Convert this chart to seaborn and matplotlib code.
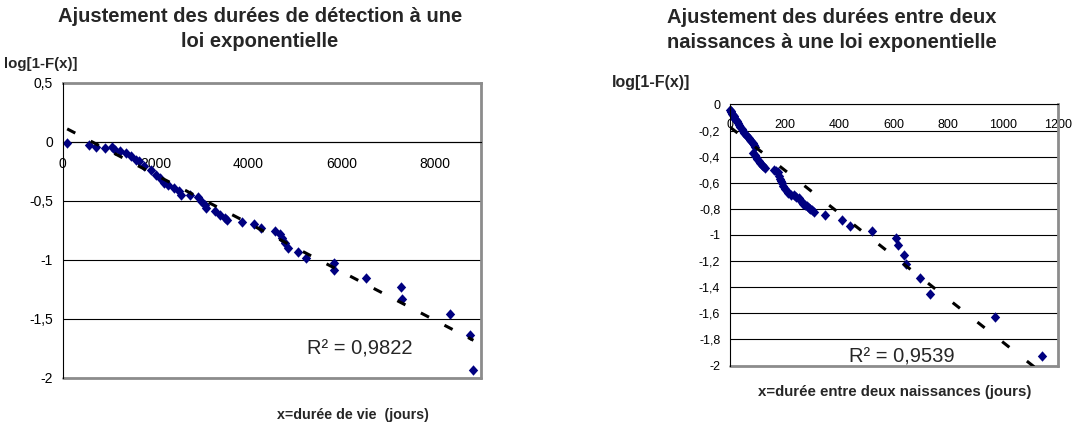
import matplotlib
matplotlib.use("Agg")
import numpy as np
import pandas as pd
import matplotlib.pyplot as plt
import seaborn as sns

# Left chart: detection durations
det_x = [96, 562, 724, 909, 1057, 1131, 1241, 1352, 1463, 1574, 1648, 1759, 1906, 2017,
         2091, 2187, 2276, 2387, 2497, 2549, 2734, 2904, 2978, 3052, 3089, 3273, 3384,
         3495, 3532, 3864, 4108, 4271, 4566, 4677, 4714, 4773, 4847, 5069, 5231, 5837,
         5837, 6525, 7286, 7300, 8335, 8756, 8837]
det_y = [-0.008, -0.023, -0.042, -0.051, -0.045, -0.071, -0.079, -0.093, -0.12, -0.15,
         -0.164, -0.206, -0.235, -0.277, -0.305, -0.348, -0.362, -0.39, -0.418, -0.446,
         -0.446, -0.466, -0.503, -0.531, -0.559, -0.588, -0.616, -0.644, -0.658, -0.678,
         -0.695, -0.729, -0.757, -0.777, -0.814, -0.856, -0.898, -0.935, -0.983, -1.026,
         -1.088, -1.153, -1.232, -1.328, -1.455, -1.633, -1.935]
det_trend = (0.131, -2.05e-4)  # intercept, slope
det_r2 = "R² = 0,9822"
det_xticks = [0, 2000, 4000, 6000, 8000]
det_yticks = [0.5, 0, -0.5, -1, -1.5, -2]
det_ylabels = ["0,5", "0", "-0,5", "-1", "-1,5", "-2"]

# Right chart: durations between two births
nai_x = [1, 3, 5, 8, 10, 13, 16, 19, 22, 26, 30, 34, 38, 43, 48, 53, 58, 63, 68, 73, 78,
         83, 88, 92, 86, 90, 95, 100, 105, 110, 116, 122, 128, 161, 170, 177, 180, 183,
         186, 190, 195, 202, 208, 214, 225, 235, 243, 251, 257, 263, 269, 275, 282, 288,
         294, 301, 308, 349, 410, 438, 520, 609, 614, 636, 646, 695, 731, 972, 1144]
nai_y = [-0.04, -0.05, -0.06, -0.07, -0.08, -0.09, -0.10, -0.11, -0.12, -0.13, -0.145,
         -0.16, -0.175, -0.19, -0.205, -0.22, -0.235, -0.245, -0.26, -0.27, -0.28, -0.295,
         -0.31, -0.325, -0.37, -0.385, -0.40, -0.415, -0.43, -0.445, -0.46, -0.475, -0.49,
         -0.50, -0.51, -0.52, -0.55, -0.57, -0.59, -0.605, -0.625, -0.645, -0.665, -0.68,
         -0.69, -0.695, -0.71, -0.72, -0.735, -0.745, -0.76, -0.77, -0.78, -0.79, -0.80,
         -0.81, -0.82, -0.847, -0.885, -0.93, -0.97, -1.02, -1.08, -1.15, -1.225, -1.33,
         -1.45, -1.63, -1.93]
nai_trend = (-0.173, -1.649e-3)
nai_r2 = "R² = 0,9539"
nai_xticks = [0, 200, 400, 600, 800, 1000, 1200]
nai_yticks = [0, -0.2, -0.4, -0.6, -0.8, -1, -1.2, -1.4, -1.6, -1.8, -2]
nai_ylabels = ["0", "-0,2", "-0,4", "-0,6", "-0,8", "-1", "-1,2", "-1,4", "-1,6", "-1,8", "-2"]

sns.set_style("white")
plt.rcParams['font.family'] = ['Liberation Sans', 'DejaVu Sans']

NAVY = '#000080'
FRAME = '#8c8c8c'
DIAMOND = [(0, 1), (0.9, 0), (0, -1), (-0.9, 0)]

fig = plt.figure(figsize=(10.73, 4.25), dpi=100)
ax1 = fig.add_axes([0.05843, 0.11059, 0.38984, 0.69412])
ax2 = fig.add_axes([0.68034, 0.14, 0.30531, 0.61412])


def draw(ax, xs, ys, trend, xticks, yticks, ylabels, xlim, tick_size, dash):
    df = pd.DataFrame({'x': xs, 'y': ys})
    sns.scatterplot(data=df, x='x', y='y', ax=ax, marker=DIAMOND, s=56, color=NAVY,
                    linewidth=0, zorder=3, clip_on=False)
    xr = np.array([min(xs), max(xs)])
    tr = pd.DataFrame({'x': xr, 'y': trend[0] + trend[1] * xr})
    sns.lineplot(data=tr, x='x', y='y', ax=ax, color='black', lw=2.2,
                 linestyle=(0, dash), zorder=4, dash_capstyle='butt')
    ax.set_xlim(*xlim)
    ax.set_ylim(min(yticks), max(yticks))
    ax.set_xticks(xticks, [str(t) for t in xticks])
    ax.set_yticks(yticks, ylabels)
    ax.set_xlabel('')
    ax.set_ylabel('')
    ax.yaxis.grid(True, color='black', lw=0.8)
    ax.xaxis.grid(False)
    ax.spines['bottom'].set_position(('data', 0))
    ax.spines['bottom'].set_color('black')
    ax.spines['bottom'].set_linewidth(0.8)
    ax.spines['left'].set_color('black')
    ax.spines['left'].set_linewidth(0.8)
    ax.spines['left'].set_zorder(3.5)
    for side in ('top', 'right'):
        ax.spines[side].set_color(FRAME)
        ax.spines[side].set_linewidth(2)
    if max(yticks) == 0:
        ax.spines['top'].set_visible(False)
    ax.axhline(min(yticks), color=FRAME, lw=2, clip_on=False, zorder=2.6)
    ax.tick_params(axis='x', direction='out', length=3, width=0.8, pad=7.5,
                   labelsize=tick_size, colors='black')
    ax.tick_params(axis='y', direction='out', length=3, width=0.8, pad=4,
                   labelsize=tick_size, colors='black')


draw(ax1, det_x, det_y, det_trend, det_xticks, det_yticks, det_ylabels,
     (0, 9000), 10, (3, 5.7))
draw(ax2, nai_x, nai_y, nai_trend, nai_xticks, nai_yticks, nai_ylabels,
     (0, 1200), 9, (3, 7.3))

ax1.text(0.711, 0.080, det_r2, transform=ax1.transAxes, ha='center', va='baseline',
         fontsize=14.5, zorder=5)
ax2.text(0.525, 0.0096, nai_r2, transform=ax2.transAxes, ha='center', va='baseline',
         fontsize=14.5, zorder=5)

fig.text(0.2423, 0.9318, "Ajustement des durées de détection à une\nloi exponentielle",
         ha='center', va='center', fontsize=14.5, fontweight='bold', linespacing=1.45)
fig.text(0.7754, 0.9294, "Ajustement des durées entre deux\nnaissances à une loi exponentielle",
         ha='center', va='center', fontsize=14.5, fontweight='bold', linespacing=1.35)
fig.text(4 / 1073, 1 - 64 / 425, "log[1-F(x)]", ha='left', va='center',
         fontsize=10.8, fontweight='bold')
fig.text(612 / 1073, 1 - 83 / 425, "log[1-F(x)]", ha='left', va='center',
         fontsize=11.5, fontweight='bold')
fig.text(353 / 1073, 1 - 415 / 425, "x=durée de vie  (jours)", ha='center', va='center',
         fontsize=10.3, fontweight='bold')
fig.text(895 / 1073, 1 - 392 / 425, "x=durée entre deux naissances (jours)", ha='center',
         va='center', fontsize=10.8, fontweight='bold')

fig.savefig('out.png', dpi=100)
plt.close(fig)
